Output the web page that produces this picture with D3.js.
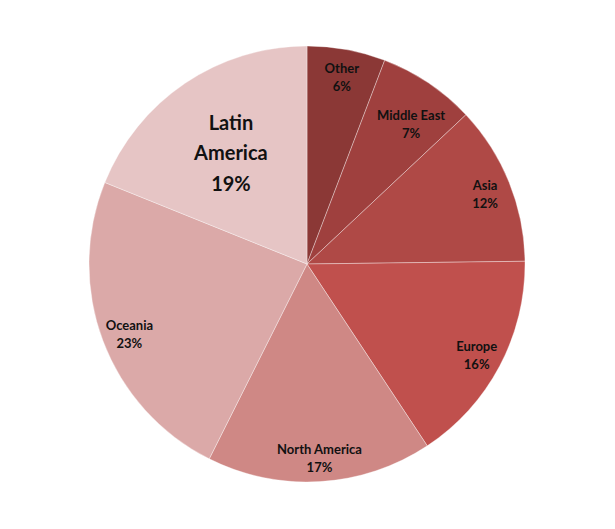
<!DOCTYPE html>
<html><head><meta charset="utf-8">
<script src="https://cdn.jsdelivr.net/npm/d3@7"></script>
<style>body{margin:0;background:#fff}svg{display:block}</style>
</head><body>
<svg id="c" width="615" height="529"></svg>
<script>
const regions = ["Other","Middle East","Asia","Europe","North America","Oceania","Latin America"];
const shares = [5.8,7.2,11.8,15.9,16.7,23.7,18.9];
const pctLabels = ["6%","7%","12%","16%","17%","23%","19%"];
const colors = ["#8B3836","#9F403E","#AF4946","#C0504D","#CF8885","#DBA9A8","#E6C5C5"];

const W=615,H=529,cx=307,cy=264,R=218;
const svg=d3.select("#c");
const g=svg.append("g").attr("transform",`translate(${cx},${cy})`);
const pie=d3.pie().sort(null).value(d=>d.v);
const data=pie(regions.map((r,i)=>({name:r,v:shares[i],p:pctLabels[i],c:colors[i]})));
const arc=d3.arc().innerRadius(0).outerRadius(R);
g.selectAll("path").data(data).join("path")
  .attr("d",arc).attr("fill",d=>d.data.c)
  .attr("stroke","rgba(255,255,255,0.35)").attr("stroke-width",1);

const labelR={"Middle East":178,"Latin America":136};
const nudge={"Middle East":[5,6],"Oceania":[2,1],"North America":[1,1]};
data.forEach(d=>{
  const r=labelR[d.data.name]||192;
  const a=(d.startAngle+d.endAngle)/2;
  const n=nudge[d.data.name]||[0,0];
  const x=Math.sin(a)*r+n[0], y=-Math.cos(a)*r+2+n[1];
  const big=d.data.name==="Latin America";
  const lines=big?["Latin","America",d.data.p]:[d.data.name,d.data.p];
  const fs=big?20:13, lh=big?30.5:18;
  const t=g.append("text").attr("text-anchor","middle")
    .attr("font-family","Lato, 'Open Sans', sans-serif").attr("font-weight","bold")
    .attr("font-size",fs).attr("fill","#111");
  lines.forEach((l,i)=>{
    t.append("tspan").attr("x",x).attr("y",y+(i-(lines.length-1)/2)*lh).attr("dy","0.35em").text(l);
  });
});
</script>
</body></html>
